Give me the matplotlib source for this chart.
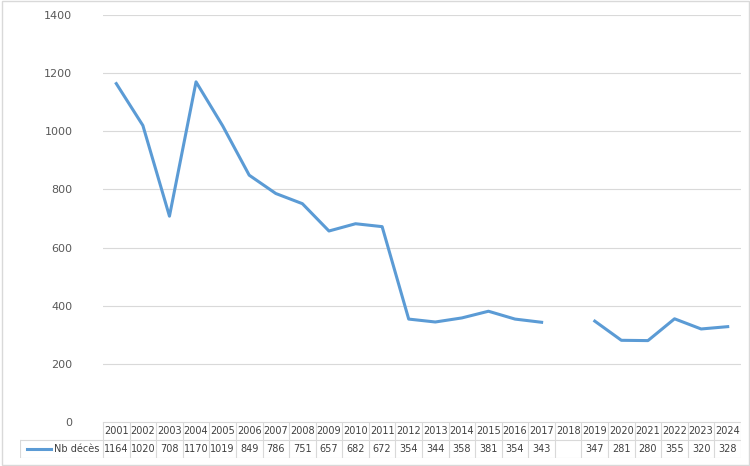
import matplotlib.pyplot as plt
import numpy as np

years = [str(y) for y in range(2001, 2025)]
deaths = [1164, 1020, 708, 1170, 1019, 849, 786, 751, 657, 682, 672, 354,
          344, 358, 381, 354, 343, None, 347, 281, 280, 355, 320, 328]
series_name = "Nb décès"

W, H = 750, 466
fig = plt.figure(figsize=(7.5, 4.66), dpi=100)
fig.patches.append(plt.Rectangle((0.002, 0.002), 0.996, 0.996, transform=fig.transFigure,
                                 fill=False, edgecolor='#d9d9d9', linewidth=1))

left, right, top, bottom = 103, 741, 15, 422
ax = fig.add_axes([left / W, 1 - bottom / H, (right - left) / W, (bottom - top) / H])
x = np.arange(len(years))
y = np.array([np.nan if v is None else v for v in deaths], dtype=float)
ax.plot(x, y, color='#5b9bd5', linewidth=2.2)
ax.set_xlim(-0.5, len(years) - 0.5)
ax.set_ylim(0, 1400)
ax.set_yticks(range(0, 1401, 200))
ax.tick_params(axis='y', length=0, labelsize=8, colors='#595959', pad=22)
ax.set_xticks([])
ax.grid(axis='y', color='#d9d9d9', linewidth=0.8)
for s in ax.spines.values():
    s.set_visible(False)

# data table below the plot
tab = fig.add_axes([20 / W, 1 - 458 / H, (right - 20) / W, 36 / H])
tab.axis('off')
x0 = -0.5 - (left - 20) / (right - left) * len(years)
tab.set_xlim(x0, len(years) - 0.5)
tab.set_ylim(0, 2)
lc = '#d9d9d9'
tab.plot([-0.5, len(years) - 0.5], [2, 2], color=lc, lw=0.8)
tab.plot([x0, len(years) - 0.5], [1, 1], color=lc, lw=0.8)
tab.plot([x0, len(years) - 0.5], [0, 0], color=lc, lw=0.8)
tab.plot([x0, x0], [0, 1], color=lc, lw=0.8)
for i in range(len(years) + 1):
    tab.plot([i - 0.5, i - 0.5], [0, 2], color=lc, lw=0.8)
for i, (yr, v) in enumerate(zip(years, deaths)):
    tab.text(i, 1.5, yr, ha='center', va='center', fontsize=7, color='#404040')
    if v is not None:
        tab.text(i, 0.5, str(v), ha='center', va='center', fontsize=7, color='#404040')
tab.plot([x0 + 0.25, x0 + 1.15], [0.5, 0.5], color='#5b9bd5', lw=2.2)
tab.text(-0.62, 0.5, series_name, ha='right', va='center', fontsize=7, color='#404040')

fig.savefig('out.png', dpi=100)
